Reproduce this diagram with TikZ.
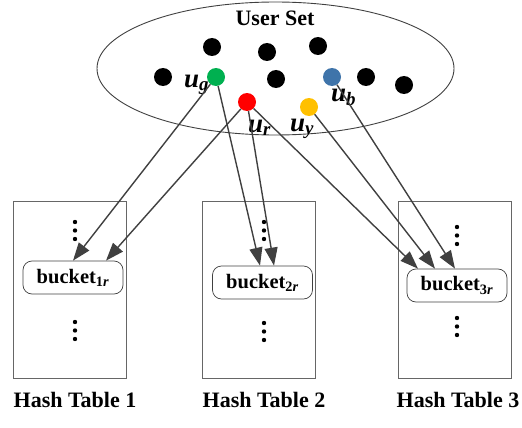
\documentclass[tikz,border=0pt]{standalone}
\usepackage{fontspec}
\setmainfont{Liberation Serif}
\usetikzlibrary{arrows.meta,calc,shapes.geometric}
\definecolor{ln}{HTML}{404040}
\definecolor{ugc}{HTML}{00B050}
\definecolor{urc}{HTML}{FF0000}
\definecolor{ubc}{HTML}{3F74AA}
\definecolor{uyc}{HTML}{FFC000}
\tikzset{
  dot/.style={circle,fill=#1,minimum size=18pt,inner sep=0pt},
  tablebox/.style={draw=ln!80,line width=0.8pt,minimum width=113pt,minimum height=177pt,inner sep=0pt},
  bucketbox/.style={draw=ln,line width=0.7pt,rounded corners=9pt,minimum width=100pt,minimum height=33pt,inner sep=0pt,font=\fontsize{20.5}{23}\selectfont\bfseries},
  ulabel/.style={anchor=base west,inner sep=0pt,font=\fontsize{27}{30}\selectfont\bfseries\itshape},
  title/.style={anchor=base,inner sep=0pt,font=\fontsize{22}{24}\selectfont\bfseries},
  link/.style={draw=ln,line width=1.4pt,-{Triangle[length=18pt,width=13pt]}}
}
\newcommand{\myvdots}[2]{\fill (#1,#2) circle (2.2pt); \fill (#1,#2+8.5) circle (2.2pt); \fill (#1,#2+17) circle (2.2pt);}
\begin{document}
\begin{tikzpicture}[x=1pt,y=-1pt]
\useasboundingbox (0,0) rectangle (522,428);
% user set
\node[draw=ln,line width=0.9pt,ellipse,minimum width=357pt,minimum height=133pt,inner sep=0pt] (set) at (275.5,68.5) {};
\node[title] (settitle) at (275,26) {User Set};
\node[dot=black] (d1) at (212,47) {};
\node[dot=black] (d2) at (267,52) {};
\node[dot=black] (d3) at (318,46) {};
\node[dot=black] (d4) at (163,77) {};
\node[dot=black] (d5) at (276,79) {};
\node[dot=black] (d6) at (366,77) {};
\node[dot=black] (d7) at (404,85) {};
\node[dot=ugc] (ug) at (216,77) {};
\node[dot=ubc] (ub) at (332,77) {};
\node[dot=urc] (ur) at (247,102) {};
\node[dot=uyc] (uy) at (309,107) {};
\node[ulabel] (lg) at (184,87) {u\textsubscript{g}};
\node[ulabel] (lb) at (331,101) {u\textsubscript{b}};
\node[ulabel] (lr) at (248,132) {u\textsubscript{r}};
\node[ulabel] (ly) at (290,131) {u\textsubscript{y}};
% hash tables
\node[tablebox] (t1) at (69.5,289.5) {};
\node[tablebox] (t2) at (259,289.5) {};
\node[tablebox] (t3) at (455,289.5) {};
\node[bucketbox] (b1) at (73,277.5) {bucket\textsubscript{1\textit{r}}};
\node[bucketbox] (b2) at (262.5,282.5) {bucket\textsubscript{2\textit{r}}};
\node[bucketbox] (b3) at (457,285.5) {bucket\textsubscript{3\textit{r}}};
\myvdots{75}{222}
\myvdots{75}{322}
\myvdots{264}{222}
\myvdots{264}{323}
\myvdots{457}{227}
\myvdots{457}{318}
\node[title] (h1) at (75,407) {Hash Table 1};
\node[title] (h2) at (264,407) {Hash Table 2};
\node[title] (h3) at (458,407) {Hash Table 3};
% arrow targets
\coordinate (e11) at ([xshift=0pt]b1.north);
\coordinate (e12) at ([xshift=33pt]b1.north);
\coordinate (e21) at ([xshift=-2.5pt]b2.north);
\coordinate (e22) at ([xshift=11.5pt]b2.north);
\coordinate (e31) at ([xshift=-39pt]b3.north);
\coordinate (e32) at ([xshift=-22pt]b3.north);
\coordinate (e33) at ([xshift=-2pt]b3.north);
\draw[link] (ug) -- (e11);
\draw[link] (ug) -- (e21);
\draw[link] (ur) -- (e12);
\draw[link] (ur) -- (e22);
\draw[link] (ur) -- (e31);
\draw[link] (uy) -- (e32);
\draw[link] (ub) -- (e33);
\end{tikzpicture}
\end{document}
